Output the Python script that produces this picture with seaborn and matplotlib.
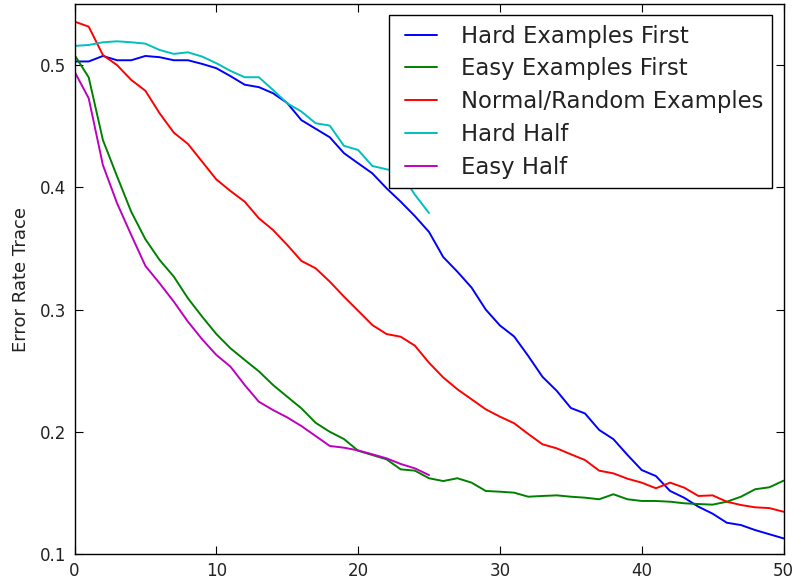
import numpy as np
import pandas as pd
import matplotlib
matplotlib.use("Agg")
import matplotlib.pyplot as plt
from matplotlib.lines import Line2D
from matplotlib.legend_handler import HandlerLine2D
import seaborn as sns

epochs_full = list(range(0, 51))
epochs_half = list(range(0, 26))

hard_first = [0.503, 0.503, 0.5075, 0.504, 0.504, 0.5075, 0.5065, 0.504, 0.504, 0.501,
              0.4975, 0.491, 0.484, 0.482, 0.477, 0.469, 0.455, 0.448, 0.441, 0.428,
              0.4197, 0.4115, 0.3993, 0.3883, 0.3765, 0.3635, 0.343, 0.331, 0.318, 0.300,
              0.287, 0.278, 0.262, 0.245, 0.2336, 0.2195, 0.215, 0.2015, 0.194, 0.181,
              0.1687, 0.1638, 0.1516, 0.146, 0.1387, 0.133, 0.1256, 0.1237, 0.1196, 0.1162,
              0.1128]
easy_first = [0.5083, 0.490, 0.4388, 0.409, 0.380, 0.3575, 0.3406, 0.327, 0.3092, 0.2942,
              0.280, 0.2683, 0.2588, 0.2495, 0.2383, 0.2287, 0.2192, 0.2074, 0.200, 0.1941,
              0.1845, 0.181, 0.1775, 0.1693, 0.1682, 0.162, 0.1597, 0.162, 0.1584, 0.1516,
              0.151, 0.1502, 0.1469, 0.1475, 0.148, 0.1469, 0.1461, 0.1448, 0.1489, 0.1448,
              0.1434, 0.1434, 0.1428, 0.1415, 0.1409, 0.1404, 0.1428, 0.1469, 0.153, 0.1546,
              0.160]
normal_random = [0.5356, 0.5315, 0.5083, 0.500, 0.4879, 0.479, 0.4606, 0.4448, 0.4355, 0.421,
                 0.4065, 0.397, 0.3883, 0.3747, 0.3651, 0.3529, 0.3398, 0.3338, 0.3229, 0.3106,
                 0.2990, 0.2874, 0.280, 0.2778, 0.2705, 0.2565, 0.2445, 0.2348, 0.2266, 0.2184,
                 0.2124, 0.207, 0.1982, 0.1898, 0.1865, 0.1816, 0.1769, 0.1682, 0.166, 0.1616,
                 0.1584, 0.1538, 0.1584, 0.1543, 0.1475, 0.148, 0.1428, 0.1401, 0.1382, 0.1376,
                 0.1346]
hard_half = [0.5157, 0.5165, 0.5187, 0.5195, 0.5187, 0.5176, 0.5124, 0.5092, 0.5105, 0.507,
             0.5016, 0.4953, 0.4901, 0.4901, 0.4797, 0.4688, 0.462, 0.4525, 0.4505, 0.434,
             0.4306, 0.4175, 0.4148, 0.412, 0.394, 0.379]
easy_half = [0.4947, 0.4729, 0.4183, 0.387, 0.361, 0.3357, 0.3215, 0.3065, 0.2901, 0.2757,
             0.2629, 0.2533, 0.2383, 0.2246, 0.2178, 0.2118, 0.2047, 0.1966, 0.1884, 0.187,
             0.1848, 0.1816, 0.1783, 0.1737, 0.1701, 0.1646]

labels = ["Hard Examples First", "Easy Examples First", "Normal/Random Examples",
          "Hard Half", "Easy Half"]
colors = ["#0000ff", "#008000", "#ff0000", "#00bfbf", "#bf00bf"]
x_ticks = [0, 10, 20, 30, 40, 50]
y_ticks = [0.1, 0.2, 0.3, 0.4, 0.5]

series = [(labels[0], epochs_full, hard_first),
          (labels[1], epochs_full, easy_first),
          (labels[2], epochs_full, normal_random),
          (labels[3], epochs_half, hard_half),
          (labels[4], epochs_half, easy_half)]
df = pd.concat([pd.DataFrame({"epoch": xs, "error": ys, "method": name})
                for name, xs, ys in series], ignore_index=True)

sns.set_style("ticks")
plt.rcParams["font.family"] = ["DejaVu Sans"]
plt.rcParams["xtick.direction"] = "in"
plt.rcParams["ytick.direction"] = "in"

fig = plt.figure(figsize=(7.97, 5.83), dpi=100)
ax = fig.add_axes([0.0935, 0.0497, 0.8896, 0.9434])

sns.lineplot(data=df, x="epoch", y="error", hue="method", hue_order=labels,
             palette=dict(zip(labels, colors)), linewidth=1.4, ax=ax, legend=True)

ax.set_xlim(0, 50)
ax.set_ylim(0.1, 0.55)
ax.set_xticks(x_ticks)
ax.set_yticks(y_ticks)
ax.set_xticklabels([str(t) for t in x_ticks])
ax.set_yticklabels([f"{t:.1f}" for t in y_ticks])
ax.tick_params(axis="both", which="major", direction="in", length=5.5, width=0.8,
               top=True, right=True, labelsize=12, color="black", labelcolor="#222222",
               pad=6)
for sp in ax.spines.values():
    sp.set_visible(True)
    sp.set_color("black")
    sp.set_linewidth(1.0)
ax.set_xlabel("")
ax.set_ylabel("Error Rate Trace", fontsize=13, color="#222222", labelpad=7)

handles, lbls = ax.get_legend_handles_labels()
leg = ax.legend(handles, lbls, loc="upper right", fontsize=16.4, frameon=True,
                fancybox=False, edgecolor="black", framealpha=1, handlelength=1.7,
                handletextpad=1.05, labelspacing=0.43, borderaxespad=0.5, borderpad=0.4,
                handler_map={Line2D: HandlerLine2D(xpad=0.29)})
leg.get_frame().set_linewidth(1.0)
for t in leg.get_texts():
    t.set_color("#222222")

fig.savefig("out.png", dpi=100)
